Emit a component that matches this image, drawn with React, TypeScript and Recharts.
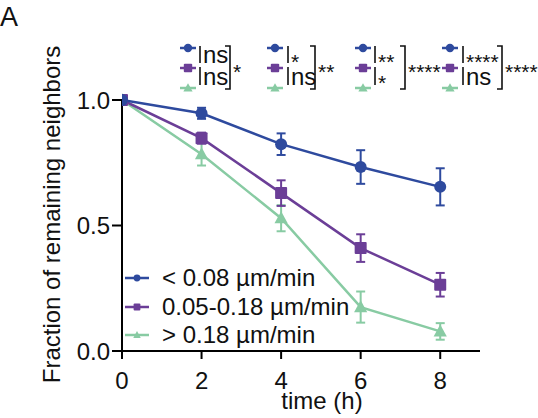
import React from 'react';
import { LineChart, Line, XAxis, YAxis, ErrorBar, Legend, Customized } from 'recharts';

const times = [0, 2, 4, 6, 8];
const slowMean = [1.0, 0.947, 0.824, 0.733, 0.654];
const slowErr = [0.0, 0.022, 0.043, 0.067, 0.074];
const midMean = [1.0, 0.848, 0.629, 0.41, 0.264];
const midErr = [0.0, 0.022, 0.051, 0.055, 0.047];
const fastMean = [1.0, 0.784, 0.529, 0.175, 0.078];
const fastErr = [0.0, 0.045, 0.052, 0.062, 0.033];
const xTicks = [0, 2, 4, 6, 8];
const yTicks = [0, 0.5, 1.0];
const seriesNames = ['< 0.08 µm/min', '0.05-0.18 µm/min', '> 0.18 µm/min'];
const sigRow1 = ['ns', '*', '**', '****'];
const sigRow2 = ['ns', 'ns', '*', 'ns'];
const sigBracket = ['*', '**', '****', '****'];

const BLUE = '#2E4A9E';
const PURPLE = '#6B3E97';
const GREEN = '#88CBA3';
const FONT = '"Liberation Sans", Arial, Helvetica, sans-serif';
const FS = 24;

const data = times.map((t, i) => ({
  t,
  slow: slowMean[i],
  slowE: slowErr[i],
  mid: midMean[i],
  midE: midErr[i],
  fast: fastMean[i],
  fastE: fastErr[i],
}));

const shapeOf: Record<string, string> = { slow: 'circle', mid: 'square', fast: 'triangle' };
const legendOrder = ['slow', 'mid', 'fast'];

function Marker({ shape, cx, cy, s, color }: { shape: string; cx: number; cy: number; s: number; color: string }) {
  if (shape === 'circle') return <circle cx={cx} cy={cy} r={s} fill={color} />;
  if (shape === 'square')
    return <rect x={cx - s} y={cy - s} width={2 * s} height={2 * s} rx={1} fill={color} />;
  return (
    <polygon
      points={`${cx},${cy - s * 1.15} ${cx - s * 1.1},${cy + s * 0.85} ${cx + s * 1.1},${cy + s * 0.85}`}
      fill={color}
    />
  );
}

const makeDot = (shape: string, color: string) => (p: any) => {
  if (p.cx == null || p.cy == null) return <g key={`n${p.index}`} />;
  return <Marker key={`d${p.index}`} shape={shape} cx={p.cx} cy={p.cy} s={6} color={color} />;
};

const renderLegend = (props: any) => {
  const payload = [...(props.payload || [])].sort(
    (a: any, b: any) => legendOrder.indexOf(a.dataKey) - legendOrder.indexOf(b.dataKey)
  );
  return (
    <div style={{ fontFamily: FONT, fontSize: FS, color: '#111' }}>
      {payload.map((e: any) => (
        <div key={e.value} style={{ display: 'flex', alignItems: 'center', height: 28.5, lineHeight: '28.5px' }}>
          <svg width={24} height={16} style={{ display: 'block' }}>
            <line x1={0} y1={8} x2={24} y2={8} stroke={e.color} strokeWidth={2.5} />
            <Marker shape={shapeOf[e.dataKey]} cx={12} cy={8} s={3.4} color={e.color} />
          </svg>
          <span style={{ marginLeft: 13, whiteSpace: 'nowrap' }}>{e.value}</span>
        </div>
      ))}
    </div>
  );
};

const groupX = [188, 275, 363, 450];
const pipeX = [200, 288, 375, 463];
const bracketX = [230, 315, 405, 502];

function Annotations() {
  const rowsY = [48, 68, 88];
  const colors = [BLUE, PURPLE, GREEN];
  const shapes = ['circle', 'square', 'triangle'];
  const textStyle = { fontFamily: FONT, fontSize: FS, fill: '#111' } as const;
  const starStyle = { fontFamily: FONT, fontSize: 21, fill: '#111' } as const;
  const isStar = (s: string) => s.startsWith('*');
  return (
    <g>
      <text x={0} y={26} style={{ fontFamily: FONT, fontSize: 27, fill: '#111' }}>A</text>
      <text transform="translate(60,214.5) rotate(-90)" textAnchor="middle" style={textStyle}>
        Fraction of remaining neighbors
      </text>
      <text x={322} y={409} textAnchor="middle" style={textStyle}>time (h)</text>
      {groupX.map((gx, g) => (
        <g key={g}>
          {rowsY.map((ry, r) => (
            <g key={r}>
              <line x1={gx - 8} y1={ry} x2={gx + 8} y2={ry} stroke={colors[r]} strokeWidth={2.5} />
              <Marker shape={shapes[r]} cx={gx} cy={ry} s={4.2} color={colors[r]} />
            </g>
          ))}
          <line x1={pipeX[g]} y1={46} x2={pipeX[g]} y2={63} stroke="#111" strokeWidth={1.6} />
          <line x1={pipeX[g]} y1={67} x2={pipeX[g]} y2={85} stroke="#111" strokeWidth={1.6} />
          <text style={{ fontFamily: FONT, fill: '#111' }}>
            <tspan
              x={pipeX[g] + 3}
              y={isStar(sigRow1[g]) ? 69 : 63}
              style={isStar(sigRow1[g]) ? starStyle : textStyle}
            >
              {sigRow1[g]}
            </tspan>
            <tspan
              x={pipeX[g] + 3}
              y={isStar(sigRow2[g]) ? 90 : 85}
              style={isStar(sigRow2[g]) ? starStyle : textStyle}
            >
              {sigRow2[g]}
            </tspan>
          </text>
          <polyline
            points={`${bracketX[g] - 5},46 ${bracketX[g]},46 ${bracketX[g]},89 ${bracketX[g] - 5},89`}
            fill="none"
            stroke="#111"
            strokeWidth={1.6}
          />
          <text x={bracketX[g] + 3} y={79} style={starStyle}>{sigBracket[g]}</text>
        </g>
      ))}
    </g>
  );
}

export default function App() {
  return (
    <div style={{ position: 'absolute', left: 0, top: 0, width: 538, height: 418, background: '#fff' }}>
      <LineChart
        width={538}
        height={418}
        data={data}
        margin={{ top: 100, right: 58, bottom: 17, left: 62 }}
      >
        <XAxis
          dataKey="t"
          type="number"
          domain={[0, 9]}
          ticks={xTicks}
          allowDataOverflow
          height={50}
          tickSize={8}
          tickMargin={13}
          axisLine={{ stroke: '#000', strokeWidth: 2 }}
          tickLine={{ stroke: '#000', strokeWidth: 2 }}
          tick={{ fill: '#111', fontSize: FS, fontFamily: FONT }}
        />
        <YAxis
          type="number"
          domain={[0, 1]}
          ticks={yTicks}
          width={60}
          tickSize={10}
          tickMargin={2}
          tickFormatter={(v: number) => v.toFixed(1)}
          axisLine={{ stroke: '#000', strokeWidth: 2 }}
          tickLine={{ stroke: '#000', strokeWidth: 2 }}
          tick={{ fill: '#111', fontSize: FS, fontFamily: FONT }}
        />
        <Line
          dataKey="fast"
          name={seriesNames[2]}
          stroke={GREEN}
          strokeWidth={2.5}
          isAnimationActive={false}
          dot={makeDot('triangle', GREEN)}
          activeDot={false}
        >
          <ErrorBar dataKey="fastE" width={4.5} stroke={GREEN} strokeWidth={2} direction="y" />
        </Line>
        <Line
          dataKey="mid"
          name={seriesNames[1]}
          stroke={PURPLE}
          strokeWidth={2.5}
          isAnimationActive={false}
          dot={makeDot('square', PURPLE)}
          activeDot={false}
        >
          <ErrorBar dataKey="midE" width={4.5} stroke={PURPLE} strokeWidth={2} direction="y" />
        </Line>
        <Line
          dataKey="slow"
          name={seriesNames[0]}
          stroke={BLUE}
          strokeWidth={2.5}
          isAnimationActive={false}
          dot={makeDot('circle', BLUE)}
          activeDot={false}
        >
          <ErrorBar dataKey="slowE" width={4.5} stroke={BLUE} strokeWidth={2} direction="y" />
        </Line>
        <Legend
          layout="vertical"
          align="center"
          verticalAlign="middle"
          content={renderLegend}
          wrapperStyle={{ position: 'absolute', left: 125, top: 264, width: 260, height: 90 }}
        />
        <Customized component={Annotations} />
      </LineChart>
    </div>
  );
}
